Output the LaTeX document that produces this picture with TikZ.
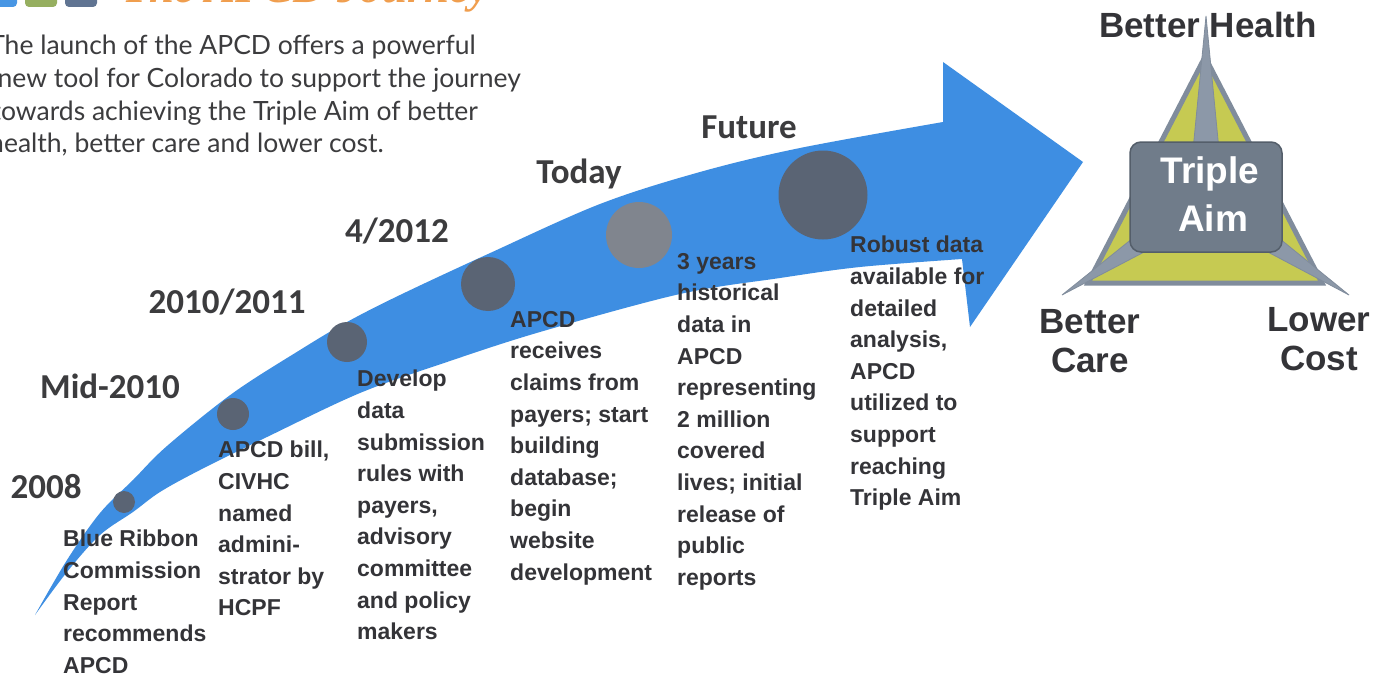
\documentclass[tikz,border=0pt]{standalone}
\usepackage{fontspec}
\setmainfont{Liberation Sans}
\newfontfamily\calfont{Carlito}
\newfontfamily\gillfont{Lato}
\newfontfamily\titlefont{Liberation Serif}
\definecolor{arrowblue}{RGB}{62,142,226}
\definecolor{dotdark}{RGB}{90,100,116}
\definecolor{dotlight}{RGB}{128,133,142}
\definecolor{textgray}{RGB}{52,52,56}
\definecolor{bodygray}{RGB}{60,60,62}
\definecolor{trigreen}{RGB}{198,202,82}
\definecolor{trigray}{RGB}{128,140,156}
\definecolor{ridgegray}{RGB}{140,152,168}
\definecolor{rectgray}{RGB}{112,124,138}
\definecolor{rectedge}{RGB}{84,94,106}
\definecolor{titleorange}{RGB}{240,158,78}
\definecolor{sqblue}{RGB}{72,150,228}
\definecolor{sqgreen}{RGB}{150,175,96}
\definecolor{sqslate}{RGB}{96,116,146}
\tikzset{
  year/.style={anchor=base, inner sep=0pt, font=\calfont\fontsize{35}{40}\selectfont\bfseries, text=bodygray},
  desc/.style={anchor=north west, inner sep=0pt, align=left, font=\fontsize{23}{31.6}\selectfont\bfseries, text=textgray},
  bodyline/.style={anchor=base east, inner sep=0pt, font=\gillfont\fontsize{26.5}{32}\selectfont, text=bodygray},
  aimlabel/.style={anchor=base, inner sep=0pt, font=\fontsize{35}{40}\selectfont\bfseries, text=textgray},
  dot/.style={circle, fill=dotdark, inner sep=0pt},
  square/.style={rounded corners=4pt}
}
\begin{document}
\begin{tikzpicture}[x=1pt,y=-1pt]
\useasboundingbox (0,0) rectangle (1382,677);
\fill[white] (0,0) rectangle (1382,677);

% title bar (cut off at top)
\fill[sqblue, square] (-20,-30) rectangle (17,7);
\fill[sqgreen, square] (25,-30) rectangle (57,7);
\fill[sqslate, square] (65,-30) rectangle (97,7);
\node[anchor=base west, inner sep=0pt, text=titleorange, font=\titlefont\fontsize{45}{50}\selectfont\bfseries\itshape] (title) at (122,3) {The APCD Journey};

% intro text
\node[bodyline] (l1) at (476,55) {The launch of the APCD offers a powerful};
\node[bodyline] (l2) at (521,88) {new tool for Colorado to support the journey};
\node[bodyline] (l3) at (478,120) {towards achieving the Triple Aim of better};
\node[bodyline] (l4) at (384,152) {health, better care and lower cost.};

% curved arrow
\fill[arrowblue] plot[smooth,tension=0.55] coordinates {(35,615) (67,560) (100,513) (133,480) (167,446) (233,393) (300,350) (347,322) (400,295) (488,254) (600,204) (700,172) (800,148) (943,122)}
  -- (943,62) -- (1083,162) -- (970,327) -- (962,259)
  -- plot[smooth,tension=0.55] coordinates {(962,259) (860,267) (780,278) (680,294) (540,332) (447,362) (360,393) (267,437) (200,470) (160,492) (133,512) (100,535) (67,572) (35,615)} -- cycle;

% milestone dots
\node[dot, minimum size=22pt] (d1) at (124,502) {};
\node[dot, minimum size=32pt] (d2) at (233,414) {};
\node[dot, minimum size=40pt] (d3) at (347,342) {};
\node[dot, minimum size=54pt] (d4) at (488,284) {};
\node[dot, fill=dotlight, minimum size=66pt] (d5) at (639,235) {};
\node[dot, minimum size=89pt] (d6) at (823,195) {};

% year labels
\node[year] (y1) at (46,498) {2008};
\node[year] (y2) at (110,398) {Mid-2010};
\node[year] (y3) at (227,313) {2010/2011};
\node[year] (y4) at (397,242) {4/2012};
\node[year] (y5) at (579,183) {Today};
\node[year] (y6) at (749,138) {Future};

% descriptions
\node[desc] (t1) at (63,530) {Blue Ribbon\\Commission\\Report\\recommends\\APCD};
\node[desc] (t2) at (218,441) {APCD bill,\\CIVHC\\named\\admini-\\strator by\\HCPF};
\node[desc] (t3) at (357,370) {Develop\\data\\submission\\rules with\\payers,\\advisory\\committee\\and policy\\makers};
\node[desc] (t4) at (510,311) {APCD\\receives\\claims from\\payers; start\\building\\database;\\begin\\website\\development};
\node[desc] (t5) at (677,253) {3 years\\historical\\data in\\APCD\\representing\\2 million\\covered\\lives; initial\\release of\\public\\reports};
\node[desc] (t6) at (850,236) {Robust data\\available for\\detailed\\analysis,\\APCD\\utilized to\\support\\reaching\\Triple Aim};

% triple aim triangle
\coordinate (A) at (1205,57);
\coordinate (BL) at (1088,283);
\coordinate (BR) at (1322,283);
\filldraw[fill=trigreen, draw=trigray, line width=5pt, line join=miter] (A) -- (BL) -- (BR) -- cycle;
\filldraw[fill=ridgegray, draw=trigray, line width=0.8pt] (1206,16) -- (1193,150) -- (1219,150) -- cycle;
\filldraw[fill=ridgegray, draw=trigray, line width=0.8pt] (1062,295) -- (1138,234) -- (1148,250) -- cycle;
\filldraw[fill=ridgegray, draw=trigray, line width=0.8pt] (1349,295) -- (1274,234) -- (1264,250) -- cycle;
\node[draw=rectedge, fill=rectgray, line width=1.5pt, rounded corners=11pt, minimum width=152pt, minimum height=110pt, inner sep=0pt] (aim) at (1206,197) {};
\node[anchor=base, inner sep=0pt, text=white, font=\fontsize{37}{40}\selectfont\bfseries] (aim1) at (1210,183) {Triple};
\node[anchor=base, inner sep=0pt, text=white, font=\fontsize{37}{40}\selectfont\bfseries] (aim2) at (1213,231) {Aim};

\node[aimlabel] (bh) at (1208,38) {Better Health};
\node[aimlabel] (bc1) at (1090,333) {Better};
\node[aimlabel] (bc2) at (1090,372) {Care};
\node[aimlabel] (lc1) at (1319,331) {Lower};
\node[aimlabel] (lc2) at (1319,370) {Cost};
\end{tikzpicture}
\end{document}
